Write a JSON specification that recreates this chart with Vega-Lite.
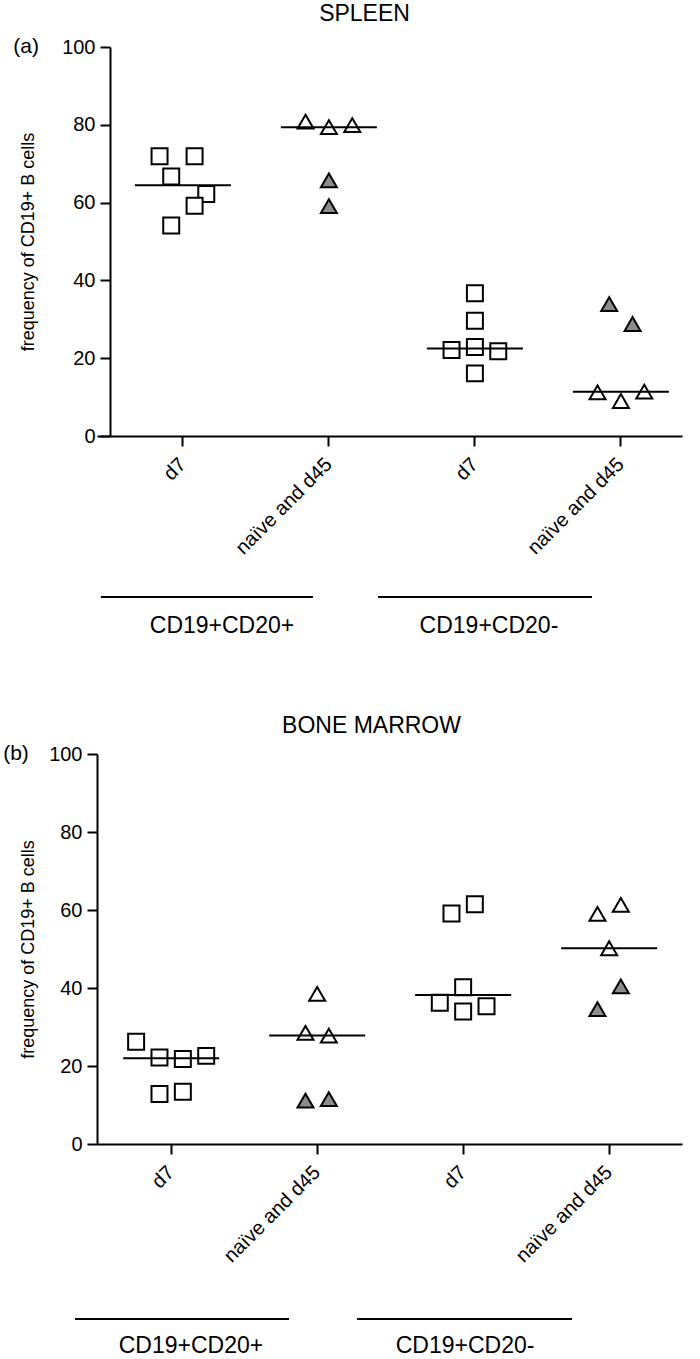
{
  "$schema": "https://vega.github.io/schema/vega-lite/v6.json",
  "background": "white",
  "padding": {"left": 3, "top": 3, "right": 5, "bottom": 2},
  "config": {
    "view": {"stroke": null},
    "font": "Liberation Sans",
    "axis": {"domainColor": "black", "domainWidth": 2, "tickColor": "black", "tickWidth": 2, "tickSize": 10, "labelColor": "black", "titleColor": "black", "labelFontSize": 20, "titleFontSize": 18, "titleFontWeight": "normal", "grid": false, "labelFont": "Liberation Sans", "titleFont": "Liberation Sans"},
    "title": {"fontSize": 23, "fontWeight": "normal", "color": "black", "font": "Liberation Sans", "frame": "group"}
  },
  "datasets": {
    "spleen": [
      {"grp": "CD19+CD20+|d7", "tp": "d7", "state": "d7", "slot": -2, "value": 71.9},
      {"grp": "CD19+CD20+|d7", "tp": "d7", "state": "d7", "slot": 1, "value": 71.9},
      {"grp": "CD19+CD20+|d7", "tp": "d7", "state": "d7", "slot": -1, "value": 66.7},
      {"grp": "CD19+CD20+|d7", "tp": "d7", "state": "d7", "slot": 2, "value": 62.2},
      {"grp": "CD19+CD20+|d7", "tp": "d7", "state": "d7", "slot": 1, "value": 59.2},
      {"grp": "CD19+CD20+|d7", "tp": "d7", "state": "d7", "slot": -1, "value": 54.1},
      {"grp": "CD19+CD20+|naïve and d45", "tp": "naïve and d45", "state": "d45", "slot": -2, "value": 80.8},
      {"grp": "CD19+CD20+|naïve and d45", "tp": "naïve and d45", "state": "d45", "slot": 0, "value": 79.4},
      {"grp": "CD19+CD20+|naïve and d45", "tp": "naïve and d45", "state": "d45", "slot": 2, "value": 79.9},
      {"grp": "CD19+CD20+|naïve and d45", "tp": "naïve and d45", "state": "naïve", "slot": 0, "value": 65.7},
      {"grp": "CD19+CD20+|naïve and d45", "tp": "naïve and d45", "state": "naïve", "slot": 0, "value": 59.1},
      {"grp": "CD19+CD20-|d7", "tp": "d7", "state": "d7", "slot": 0, "value": 36.7},
      {"grp": "CD19+CD20-|d7", "tp": "d7", "state": "d7", "slot": 0, "value": 29.6},
      {"grp": "CD19+CD20-|d7", "tp": "d7", "state": "d7", "slot": -2, "value": 22.1},
      {"grp": "CD19+CD20-|d7", "tp": "d7", "state": "d7", "slot": 0, "value": 22.9},
      {"grp": "CD19+CD20-|d7", "tp": "d7", "state": "d7", "slot": 2, "value": 21.8},
      {"grp": "CD19+CD20-|d7", "tp": "d7", "state": "d7", "slot": 0, "value": 16.1},
      {"grp": "CD19+CD20-|naïve and d45", "tp": "naïve and d45", "state": "naïve", "slot": -1, "value": 33.9},
      {"grp": "CD19+CD20-|naïve and d45", "tp": "naïve and d45", "state": "naïve", "slot": 1, "value": 28.8},
      {"grp": "CD19+CD20-|naïve and d45", "tp": "naïve and d45", "state": "d45", "slot": -2, "value": 11.2},
      {"grp": "CD19+CD20-|naïve and d45", "tp": "naïve and d45", "state": "d45", "slot": 0, "value": 9.0},
      {"grp": "CD19+CD20-|naïve and d45", "tp": "naïve and d45", "state": "d45", "slot": 2, "value": 11.4}
    ],
    "marrow": [
      {"grp": "CD19+CD20+|d7", "tp": "d7", "state": "d7", "slot": -3, "value": 26.2},
      {"grp": "CD19+CD20+|d7", "tp": "d7", "state": "d7", "slot": -1, "value": 22.2},
      {"grp": "CD19+CD20+|d7", "tp": "d7", "state": "d7", "slot": 1, "value": 21.8},
      {"grp": "CD19+CD20+|d7", "tp": "d7", "state": "d7", "slot": 3, "value": 22.6},
      {"grp": "CD19+CD20+|d7", "tp": "d7", "state": "d7", "slot": -1, "value": 12.8},
      {"grp": "CD19+CD20+|d7", "tp": "d7", "state": "d7", "slot": 1, "value": 13.4},
      {"grp": "CD19+CD20+|naïve and  d45", "tp": "naïve and d45", "state": "d45", "slot": 0, "value": 38.5},
      {"grp": "CD19+CD20+|naïve and  d45", "tp": "naïve and d45", "state": "d45", "slot": -1, "value": 28.5},
      {"grp": "CD19+CD20+|naïve and  d45", "tp": "naïve and d45", "state": "d45", "slot": 1, "value": 27.8},
      {"grp": "CD19+CD20+|naïve and  d45", "tp": "naïve and d45", "state": "naïve", "slot": -1, "value": 11.1},
      {"grp": "CD19+CD20+|naïve and  d45", "tp": "naïve and d45", "state": "naïve", "slot": 1, "value": 11.5},
      {"grp": "CD19+CD20-|d7", "tp": "d7", "state": "d7", "slot": -1, "value": 59.1},
      {"grp": "CD19+CD20-|d7", "tp": "d7", "state": "d7", "slot": 1, "value": 61.5},
      {"grp": "CD19+CD20-|d7", "tp": "d7", "state": "d7", "slot": 0, "value": 40.2},
      {"grp": "CD19+CD20-|d7", "tp": "d7", "state": "d7", "slot": -2, "value": 36.2},
      {"grp": "CD19+CD20-|d7", "tp": "d7", "state": "d7", "slot": 0, "value": 34.0},
      {"grp": "CD19+CD20-|d7", "tp": "d7", "state": "d7", "slot": 2, "value": 35.3},
      {"grp": "CD19+CD20-|naïve and  d45", "tp": "naïve and d45", "state": "d45", "slot": -1, "value": 59.0},
      {"grp": "CD19+CD20-|naïve and  d45", "tp": "naïve and d45", "state": "d45", "slot": 1, "value": 61.3},
      {"grp": "CD19+CD20-|naïve and  d45", "tp": "naïve and d45", "state": "d45", "slot": 0, "value": 50.2},
      {"grp": "CD19+CD20-|naïve and  d45", "tp": "naïve and d45", "state": "naïve", "slot": 1, "value": 40.4},
      {"grp": "CD19+CD20-|naïve and  d45", "tp": "naïve and d45", "state": "naïve", "slot": -1, "value": 34.6}
    ],
    "spleenGroups": [
      {"label": "CD19+CD20+", "from": 0.437, "to": 1.892, "mid": 1.268},
      {"label": "CD19+CD20-", "from": 2.339, "to": 3.807, "mid": 3.1}
    ],
    "marrowGroups": [
      {"label": "CD19+CD20+", "from": 0.341, "to": 1.81, "mid": 1.137},
      {"label": "CD19+CD20-", "from": 2.277, "to": 3.752, "mid": 3.018}
    ]
  },
  "bounds": "flush",
  "spacing": 318,
  "vconcat": [
    {
      "title": {"text": "SPLEEN", "dx": -25, "offset": 10},
      "width": 585,
      "height": 389,
      "resolve": {"scale": {"x": "independent"}},
      "layer": [
        {
          "data": {"name": "spleen"},
          "layer": [
            {
              "mark": {"type": "point", "size": 255, "stroke": "black", "strokeWidth": 2, "opacity": 1, "fillOpacity": 1, "strokeJoin": "miter"},
              "encoding": {
                "x": {"field": "grp", "type": "nominal", "sort": null,
                  "scale": {"domain": ["CD19+CD20+|d7", "CD19+CD20+|naïve and d45", "CD19+CD20-|d7", "CD19+CD20-|naïve and d45"], "paddingInner": 0.44, "paddingOuter": 0.2235, "align": 0.69},
                  "axis": {"title": null, "labelExpr": "split(datum.label, '|')[1]", "labelAngle": -45, "labelAlign": "right", "labelBaseline": "middle", "labelPadding": 15}},
                "xOffset": {"field": "slot", "type": "ordinal", "scale": {"domain": [-3, -2, -1, 0, 1, 2, 3]}},
                "y": {"field": "value", "type": "quantitative",
                  "scale": {"domain": [0, 100], "nice": false},
                  "axis": {"values": [0, 20, 40, 60, 80, 100], "title": "frequency of CD19+ B cells", "offset": -13, "titlePadding": 24, "labelPadding": 5}},
                "shape": {"field": "tp", "type": "nominal", "scale": {"domain": ["d7", "naïve and d45"], "range": ["square", "triangle-up"]}, "legend": null},
                "fill": {"field": "state", "type": "nominal", "scale": {"domain": ["d7", "d45", "naïve"], "range": ["white", "white", "#8c8c8c"]}, "legend": null}
              }
            },
            {
              "mark": {"type": "tick", "size": 96, "thickness": 2, "color": "black", "opacity": 1},
              "encoding": {
                "x": {"field": "grp", "type": "nominal", "sort": null},
                "y": {"aggregate": "median", "field": "value", "type": "quantitative"}
              }
            }
          ]
        },
        {
          "data": {"name": "spleenGroups"},
          "layer": [
            {
              "mark": {"type": "rule", "strokeWidth": 2, "color": "black"},
              "encoding": {
                "x": {"field": "from", "type": "quantitative", "scale": {"domain": [0.41, 4.425], "nice": false, "zero": false}, "axis": null},
                "x2": {"field": "to"},
                "y": {"datum": -41.4}
              }
            },
            {
              "mark": {"type": "text", "fontSize": 23, "color": "black", "baseline": "middle"},
              "encoding": {
                "x": {"field": "mid", "type": "quantitative", "axis": null},
                "y": {"datum": -48.8},
                "text": {"field": "label"}
              }
            },
            {
              "data": {"values": [{"tag": "(a)"}]},
              "mark": {"type": "text", "fontSize": 21, "color": "black", "baseline": "middle"},
              "encoding": {
                "x": {"datum": -0.077},
                "y": {"datum": 100},
                "text": {"field": "tag"}
              }
            }
          ]
        }
      ]
    },
    {
      "title": {"text": "BONE MARROW", "dx": -18, "offset": 5},
      "width": 585,
      "height": 390,
      "resolve": {"scale": {"x": "independent"}},
      "layer": [
        {
          "data": {"name": "marrow"},
          "layer": [
            {
              "mark": {"type": "point", "size": 255, "stroke": "black", "strokeWidth": 2, "opacity": 1, "fillOpacity": 1, "strokeJoin": "miter"},
              "encoding": {
                "x": {"field": "grp", "type": "nominal", "sort": null,
                  "scale": {"domain": ["CD19+CD20+|d7", "CD19+CD20+|naïve and  d45", "CD19+CD20-|d7", "CD19+CD20-|naïve and  d45"], "paddingInner": 0.44, "paddingOuter": 0.2235, "align": 0.51},
                  "axis": {"title": null, "labelExpr": "split(datum.label, '|')[1]", "labelAngle": -45, "labelAlign": "right", "labelBaseline": "middle", "labelPadding": 15}},
                "xOffset": {"field": "slot", "type": "ordinal", "scale": {"domain": [-3, -2, -1, 0, 1, 2, 3]}},
                "y": {"field": "value", "type": "quantitative",
                  "scale": {"domain": [0, 100], "nice": false},
                  "axis": {"values": [0, 20, 40, 60, 80, 100], "title": "frequency of CD19+ B cells", "titlePadding": 11, "labelPadding": 5}},
                "shape": {"field": "tp", "type": "nominal", "scale": {"domain": ["d7", "naïve and d45"], "range": ["square", "triangle-up"]}, "legend": null},
                "fill": {"field": "state", "type": "nominal", "scale": {"domain": ["d7", "d45", "naïve"], "range": ["white", "white", "#8c8c8c"]}, "legend": null}
              }
            },
            {
              "mark": {"type": "tick", "size": 96, "thickness": 2, "color": "black", "opacity": 1},
              "encoding": {
                "x": {"field": "grp", "type": "nominal", "sort": null},
                "y": {"aggregate": "median", "field": "value", "type": "quantitative"}
              }
            }
          ]
        },
        {
          "data": {"name": "marrowGroups"},
          "layer": [
            {
              "mark": {"type": "rule", "strokeWidth": 2, "color": "black"},
              "encoding": {
                "x": {"field": "from", "type": "quantitative", "scale": {"domain": [0.492, 4.507], "nice": false, "zero": false}, "axis": null},
                "x2": {"field": "to"},
                "y": {"datum": -44.9}
              }
            },
            {
              "mark": {"type": "text", "fontSize": 23, "color": "black", "baseline": "middle"},
              "encoding": {
                "x": {"field": "mid", "type": "quantitative", "axis": null},
                "y": {"datum": -51.8},
                "text": {"field": "label"}
              }
            },
            {
              "data": {"values": [{"tag": "(b)"}]},
              "mark": {"type": "text", "fontSize": 21, "color": "black", "baseline": "middle"},
              "encoding": {
                "x": {"datum": -0.064},
                "y": {"datum": 100},
                "text": {"field": "tag"}
              }
            }
          ]
        }
      ]
    }
  ]
}
